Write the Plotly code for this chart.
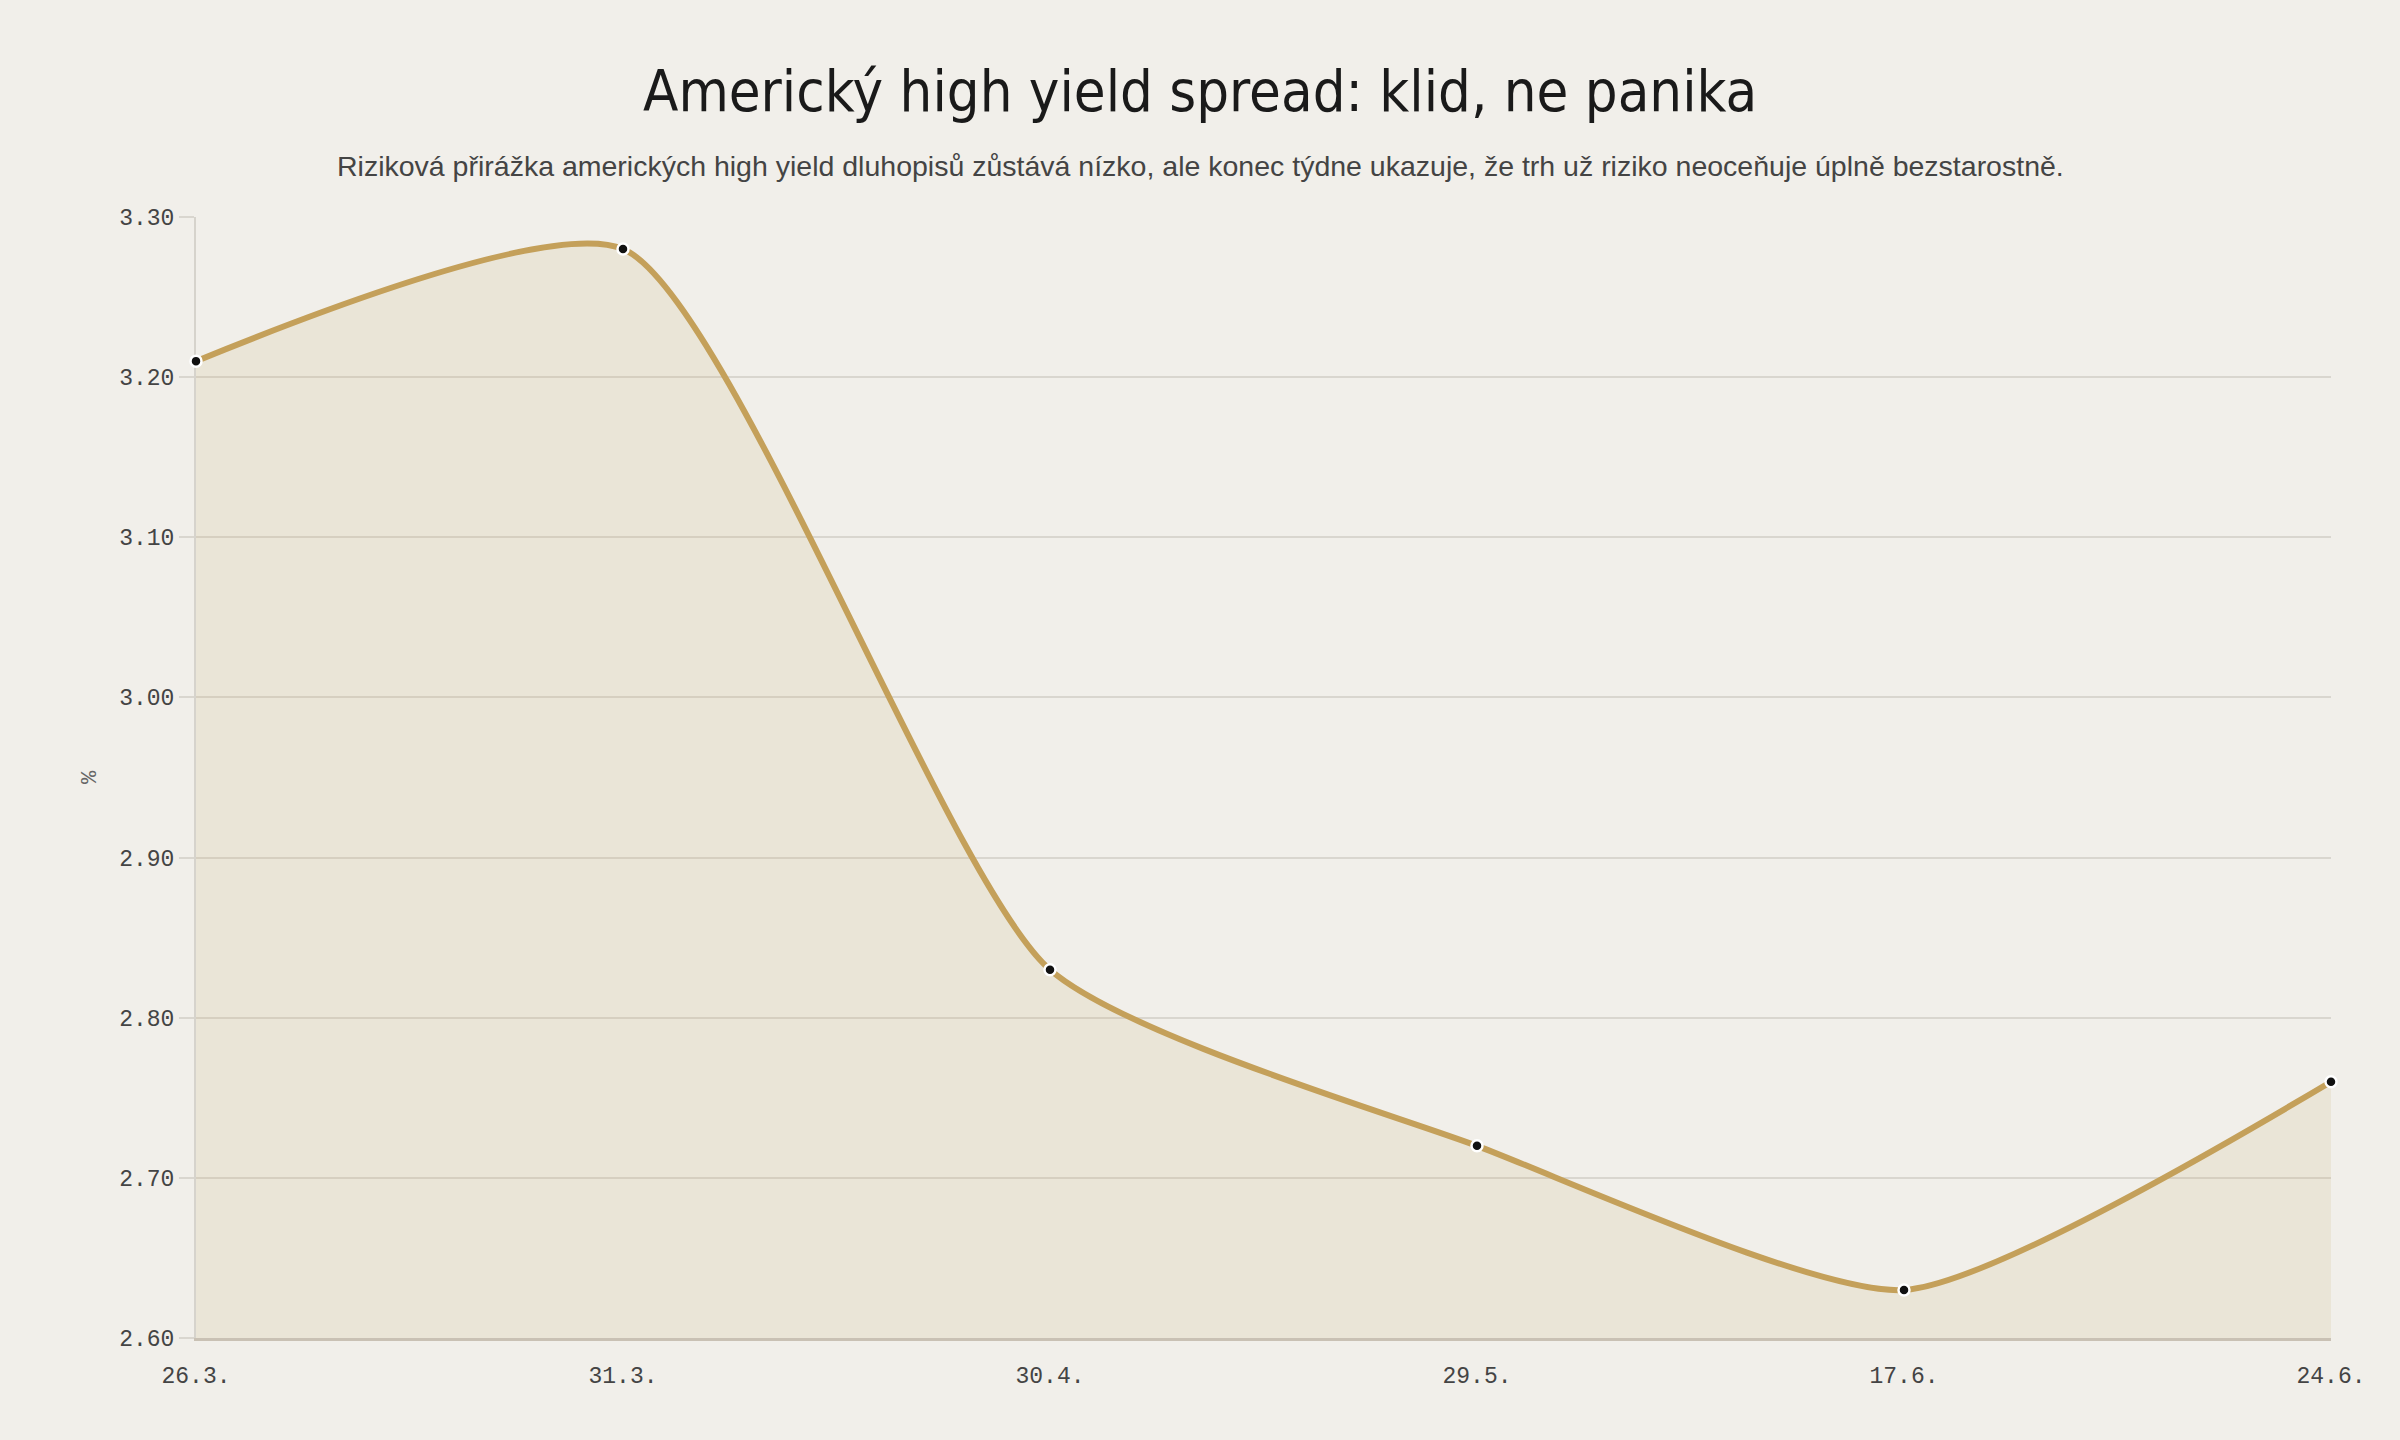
import plotly.graph_objects as go

categories = ["26.3.", "31.3.", "30.4.", "29.5.", "17.6.", "24.6."]
spread = [3.21, 3.28, 2.83, 2.72, 2.63, 2.76]
y_ticks = [2.60, 2.70, 2.80, 2.90, 3.00, 3.10, 3.20, 3.30]

title_text = "Americký high yield spread: klid, ne panika"
subtitle_text = ("Riziková přirážka amerických high yield dluhopisů zůstává nízko, ale konec týdne "
                 "ukazuje, že trh už riziko neoceňuje úplně bezstarostně.")

BG = "#f1efea"
LINE = "#c4a05a"
MONO = "Liberation Mono"

fig = go.Figure()
fig.add_trace(go.Scatter(
    x=categories, y=spread,
    mode="lines+markers",
    line=dict(color=LINE, width=6, shape="spline", smoothing=0.6),
    fill="tozeroy", fillcolor="rgba(196,160,90,0.13)",
    marker=dict(size=11, color="#111111", line=dict(color="#ffffff", width=2.5)),
    cliponaxis=False,
    hoverinfo="x+y", showlegend=False,
))

fig.update_layout(
    width=2400, height=1440,
    paper_bgcolor=BG, plot_bgcolor=BG,
    margin=dict(l=196, r=69, t=217, b=102),
    xaxis=dict(
        type="category", range=[0, len(categories) - 1],
        showgrid=False, zeroline=False,
        showline=True, linecolor="#c9c1b4", linewidth=3,
        ticks="", ticklabelstandoff=14, layer="below traces",
        tickfont=dict(family=MONO, size=23, color="#444444"),
    ),
    yaxis=dict(
        range=[2.6, 3.3], tickvals=y_ticks, tickformat=".2f",
        showgrid=True, gridcolor="#d9d6cf", gridwidth=2,
        zeroline=False, layer="below traces",
        showline=True, linecolor="#d6d3cc", linewidth=2,
        ticks="outside", ticklen=15, tickcolor="#d9d6cf", tickwidth=2,
        tickfont=dict(family=MONO, size=23, color="#444444"),
        title=dict(text="%", font=dict(family=MONO, size=22, color="#666666"), standoff=16),
    ),
    annotations=[
        dict(text=title_text, xref="paper", yref="paper",
             x=(1200 - 196) / 2135, y=(1338 - 91) / 1121,
             xanchor="center", yanchor="middle", showarrow=False,
             font=dict(family="Liberation Sans Narrow, Arial Narrow, DejaVu Sans Condensed, Liberation Sans, sans-serif",
                       size=57.5, color="#1a1a1a")),
        dict(text=subtitle_text, xref="paper", yref="paper",
             x=(1200 - 196) / 2135, y=(1338 - 166) / 1121,
             xanchor="center", yanchor="middle", showarrow=False,
             font=dict(family="Liberation Sans", size=28.5, color="#444444")),
    ],
)

fig.write_html("out.html", config={"displayModeBar": False},
               post_script="document.body.style.margin='0';document.body.style.background='" + BG + "';")
